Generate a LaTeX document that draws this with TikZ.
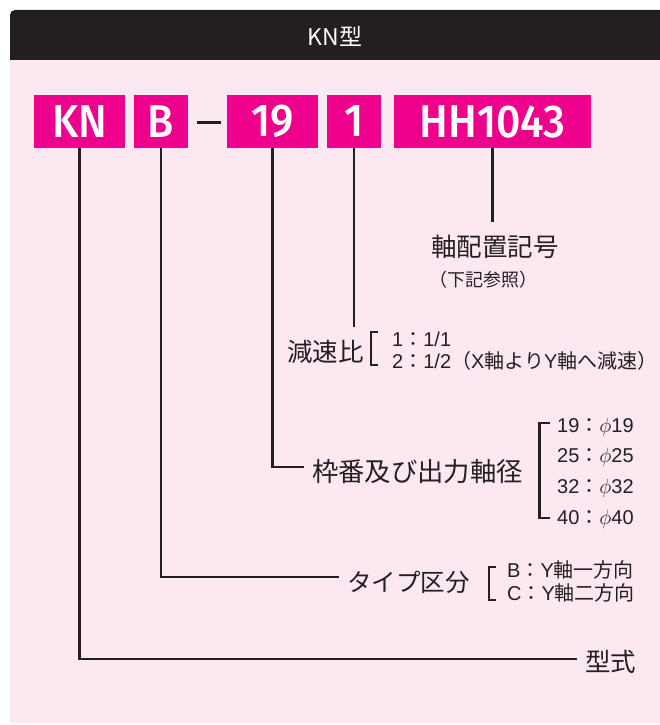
\documentclass[tikz,border=0pt]{standalone}
\usepackage{fontspec}
\setmainfont{Liberation Sans}
\newfontfamily\jp{Noto Sans CJK JP}
\newfontfamily\boxfont{Fira Sans Medium}[FakeStretch=0.93]
\definecolor{hdr}{HTML}{231F20}
\definecolor{ink}{HTML}{231F20}
\definecolor{bg}{HTML}{FCE8F1}
\definecolor{mag}{HTML}{EC008C}
\newcommand\lt[1]{{\rmfamily #1}}
\newcommand\fs[1]{\fontsize{#1}{#1}\selectfont}
\begin{document}
\begin{tikzpicture}[x=1pt,y=-1pt,
  mbox/.style={fill=mag,text=white,font=\boxfont\fs{46},minimum height=53pt,inner sep=0pt},
  lbl/.style={font=\jp\fs{25.5},text=ink,inner xsep=8pt,inner ysep=0pt,anchor=west},
  sm/.style={font=\jp\fs{20},text=ink,inner sep=0pt,anchor=west},
  wire/.style={draw=ink,line width=2.6pt},
  brk/.style={draw=ink,line width=2.2pt}]
\useasboundingbox (0,0) rectangle (660,725);
\fill[bg] (10,60) rectangle (660,723);
\fill[hdr] (660,60) -- (10,60) -- (10,15) arc[start angle=180,end angle=90,radius=5pt] -- (660,10) -- cycle;
\node[text=white,font=\jp\fs{23},inner sep=0pt] (title) at (335,36) {KN型};
% code boxes
\node[mbox,minimum width=91pt] (kn) at (79.5,121.5) {KN};
\node[mbox,minimum width=54pt] (b) at (161,121.5) {B};
\node[mbox,minimum width=91pt] (n19) at (272.5,121.5) {19};
\node[mbox,minimum width=54pt] (n1) at (354,121.5) {1};
\node[mbox,minimum width=197pt] (hh) at (492.5,121.5) {HH1043};
\draw[ink,line width=3pt] (196.5,122) -- (221,122);
% shaft arrangement
\node[font=\jp\fs{25.5},text=ink,inner sep=0pt] (haichi) at (495,247) {軸配置記号};
\node[font=\jp\fs{18},text=ink,inner sep=0pt] (sansho) at (483,280) {（下記参照）};
\coordinate (hend) at (492.5,222);
\draw[wire] (hh.south) -- (hend);
% reduction ratio
\node[lbl,inner xsep=0pt] (gensoku) at (287,352) {減速比};
\coordinate (gend) at (354,327);
\draw[wire] (n1.south) -- (gend);
\draw[brk] (378,332) -- (371,332) -- (371,365) -- (378,365);
\node[sm] (r1) at (392,339) {\lt{1}：\lt{1/1}};
\node[sm] (r2) at (392,361) {\lt{2}：\lt{1/2}（\lt{X}軸より\lt{Y}軸へ減速）};
% frame size
\node[lbl,font=\jp\fs{26.3}] (waku) at (304,472) {枠番及び出力軸径};
\draw[wire] (n19.south) |- ([yshift=5pt]waku.west);
\draw[brk] (550,423) -- (539.5,423) -- (539.5,518) -- (550,518);
\node[sm] (d1) at (557,427) {\lt{19}：$\phi$\lt{19}};
\node[sm] (d2) at (557,457) {\lt{25}：$\phi$\lt{25}};
\node[sm] (d3) at (557,488) {\lt{32}：$\phi$\lt{32}};
\node[sm] (d4) at (557,519) {\lt{40}：$\phi$\lt{40}};
% type
\node[lbl,font=\jp\fs{24.5}] (type) at (339,582) {タイプ区分};
\draw[wire] (b.south) |- ([yshift=5pt]type.west);
\draw[brk] (496,567) -- (489,567) -- (489,600) -- (496,600);
\node[sm] (c1) at (507,570) {\lt{B}：\lt{Y}軸一方向};
\node[sm] (c2) at (507,593) {\lt{C}：\lt{Y}軸二方向};
% model
\node[lbl] (kata) at (577,662) {型式};
\draw[wire] (kn.south) |- ([yshift=3pt]kata.west);
\end{tikzpicture}
\end{document}
